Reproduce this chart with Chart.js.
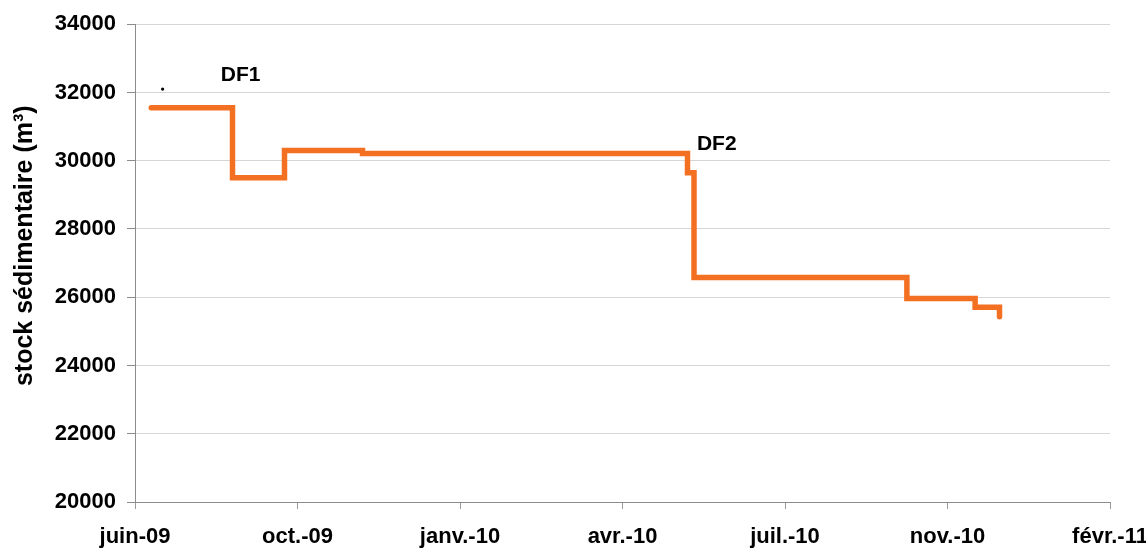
<!DOCTYPE html>
<html><head><meta charset="utf-8">
<script src="https://cdn.jsdelivr.net/npm/chart.js@4/dist/chart.umd.min.js"></script>
<style>
html,body{margin:0;padding:0;background:#fff;overflow:hidden;}
#wrap{position:relative;width:1146px;height:548px;}
</style></head>
<body><div id="wrap"><canvas id="c"></canvas></div>
<script>
// x values: days counted from the "juin-09" tick; one tick every 100 days
const xTickLabels = ['juin-09', 'oct.-09', 'janv.-10', 'avr.-10', 'juil.-10', 'nov.-10', 'févr.-11'];
const stepDays    = [10, 60, 92, 140, 340, 344, 475, 517, 532];
const stockValues = [31550, 29500, 30300, 30210, 29650, 26580, 25960, 25710, 25430];
const dotDays   = [17];
const dotValues = [32100];
const noteTexts  = ['DF1', 'DF2'];
const noteDays   = [65, 358];
const noteValues = [32510, 30480];

const FONT = "'Liberation Sans', Arial, sans-serif";

const stepData = stepDays.map((d, i) => ({x: d, y: stockValues[i]}));
const dotData = dotDays.map((d, i) => ({x: d, y: dotValues[i]}));

const notesPlugin = {
  id: 'notes',
  afterDatasetsDraw(chart) {
    const {ctx, scales: {x, y}} = chart;
    ctx.save();
    ctx.font = "bold 21px " + FONT;
    ctx.fillStyle = '#000';
    ctx.textAlign = 'center';
    ctx.textBaseline = 'middle';
    noteTexts.forEach((t, i) => {
      ctx.fillText(t, x.getPixelForValue(noteDays[i]), y.getPixelForValue(noteValues[i]));
    });
    ctx.restore();
  }
};

new Chart(document.getElementById('c'), {
  type: 'line',
  data: {
    datasets: [
      {
        data: stepData,
        stepped: true,
        borderColor: '#F36F21',
        borderWidth: 5.5,
        borderCapStyle: 'round',
        borderJoinStyle: 'miter',
        pointRadius: 0,
        fill: false
      },
      {
        data: dotData,
        showLine: false,
        pointRadius: 1.6,
        pointBackgroundColor: '#000',
        pointBorderWidth: 0
      }
    ]
  },
  options: {
    responsive: true,
    maintainAspectRatio: false,
    animation: false,
    layout: {padding: {top: 23, left: 0, right: 36, bottom: 0}},
    plugins: {legend: {display: false}, tooltip: {enabled: false}},
    scales: {
      x: {
        type: 'linear',
        min: 0, max: 600,
        afterFit(s) { s.height = 46; s.paddingLeft = 0; s.paddingRight = 0; },
        ticks: {
          stepSize: 100,
          autoSkip: false,
          maxRotation: 0,
          padding: 15,
          color: '#000',
          font: {family: FONT, size: 22, weight: 'bold'},
          callback: v => xTickLabels[Math.round(v / 100)]
        },
        grid: {display: true, drawOnChartArea: false, drawTicks: true, tickLength: 7, color: '#9a9a9a'},
        border: {display: true, color: '#8c8c8c', width: 1}
      },
      y: {
        min: 20000, max: 34000,
        afterFit(s) { s.width = 135; },
        ticks: {
          stepSize: 2000,
          padding: 11,
          color: '#000',
          font: {family: FONT, size: 22, weight: 'bold'},
          callback: v => String(v)
        },
        grid: {color: '#d6d6d6', tickColor: '#8c8c8c', tickLength: 8},
        border: {display: true, color: '#8c8c8c', width: 1},
        title: {
          display: true,
          text: '     stock sédimentaire (m³)',
          color: '#000',
          font: {family: FONT, size: 25, weight: 'bold'},
          padding: {top: 10, bottom: 0}
        }
      }
    }
  },
  plugins: [notesPlugin]
});
</script>
</body></html>
